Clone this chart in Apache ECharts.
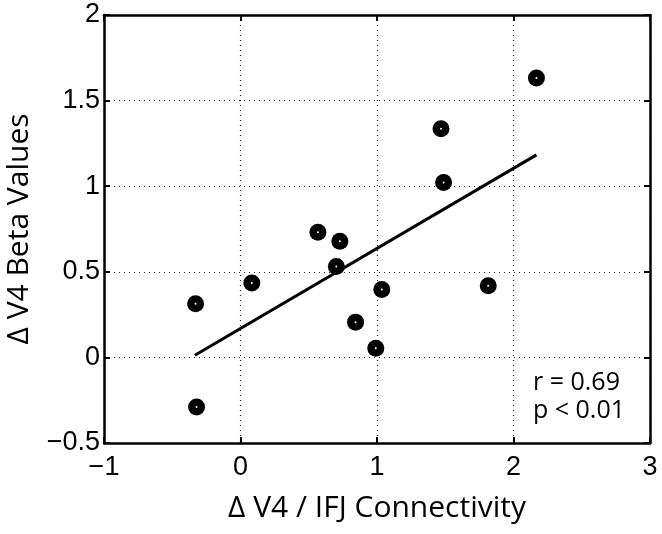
<!DOCTYPE html>
<html><head><meta charset="utf-8">
<script src="https://cdn.jsdelivr.net/npm/echarts@6/dist/echarts.min.js"></script>
<style>html,body{margin:0;padding:0;background:#fff}#c{width:662px;height:534px}</style>
</head><body><div id="c"></div>
<script>
var connectivity = [-0.329, -0.322, 0.083, 0.567, 0.728, 0.702, 1.035, 0.843, 0.991, 1.469, 1.488, 1.815, 2.168];
var betaValues   = [0.313, -0.290, 0.434, 0.731, 0.679, 0.531, 0.397, 0.206, 0.054, 1.335, 1.022, 0.418, 1.632];
var fitX = [-0.334, 2.168];
var fitY = [0.013, 1.183];
var xTitle = 'Δ V4 / IFJ Connectivity';
var yTitle = 'Δ V4 Beta Values';
var statLines = ['r = 0.69', 'p < 0.01'];

var pts = connectivity.map(function(x, i){ return [x, betaValues[i]]; });
var fit = fitX.map(function(x, i){ return [x, fitY[i]]; });
var fmt = function(v){ return String(v).replace('-', '\u2212'); };
var font = 'Liberation Sans, Arial, sans-serif';
var titleFont = 'Open Sans, Lato, sans-serif';
var chart = echarts.init(document.getElementById('c'), null, {renderer:'canvas'});
var axisLine = {show:true, onZero:false, lineStyle:{color:'#000', width:2.5}};
chart.setOption({
  animation:false,
  grid:{left:104, right:12, top:15, bottom:91, containLabel:false, outerBoundsMode:'none'},
  xAxis:[{
    type:'value', min:-1, max:3, interval:1, position:'bottom',
    axisLine:axisLine,
    axisTick:{show:true, inside:true, length:6, lineStyle:{color:'#000', width:2}},
    axisLabel:{color:'#000', fontSize:27, fontFamily:font, margin:11, formatter:fmt, showMinLabel:true, showMaxLabel:true},
    splitLine:{show:true, lineStyle:{color:'#222', type:[1,4], width:1.2}},
    name:xTitle, nameLocation:'middle', nameGap:50,
    nameTextStyle:{color:'#000', fontSize:30, fontFamily:titleFont}
  },{
    type:'value', min:-1, max:3, interval:1, position:'top',
    axisLine:axisLine,
    axisTick:{show:true, inside:true, length:6, lineStyle:{color:'#000', width:2}},
    axisLabel:{show:false}, splitLine:{show:false}
  }],
  yAxis:[{
    type:'value', min:-0.5, max:2, interval:0.5, position:'left',
    axisLine:axisLine,
    axisTick:{show:true, inside:true, length:6, lineStyle:{color:'#000', width:2}},
    axisLabel:{color:'#000', fontSize:27, fontFamily:font, margin:4, formatter:fmt, showMinLabel:true, showMaxLabel:true},
    splitLine:{show:true, lineStyle:{color:'#222', type:[1,4], width:1.2}},
    name:yTitle, nameLocation:'middle', nameGap:70, nameRotate:90,
    nameTextStyle:{color:'#000', fontSize:30, fontFamily:titleFont}
  },{
    type:'value', min:-0.5, max:2, interval:0.5, position:'right',
    axisLine:axisLine,
    axisTick:{show:true, inside:true, length:6, lineStyle:{color:'#000', width:2}},
    axisLabel:{show:false}, splitLine:{show:false}
  }],
  series:[{
    type:'line', data:fit, symbol:'none', xAxisIndex:0, yAxisIndex:0,
    lineStyle:{color:'#000', width:3}, z:3
  },{
    type:'scatter', data:pts, symbol:'circle', symbolSize:17, xAxisIndex:0, yAxisIndex:0,
    itemStyle:{color:'#000', opacity:1}, z:4
  },{
    type:'scatter', data:pts, symbol:'circle', symbolSize:2, xAxisIndex:0, yAxisIndex:0,
    itemStyle:{color:'#fff', opacity:1}, z:5, silent:true
  }],
  graphic:[{
    type:'text', right:37, top:369,
    style:{text:statLines.join('\n'), fill:'#000', font:'25px Open Sans, Lato, sans-serif', align:'right', lineHeight:28}
  }]
});
</script></body></html>
